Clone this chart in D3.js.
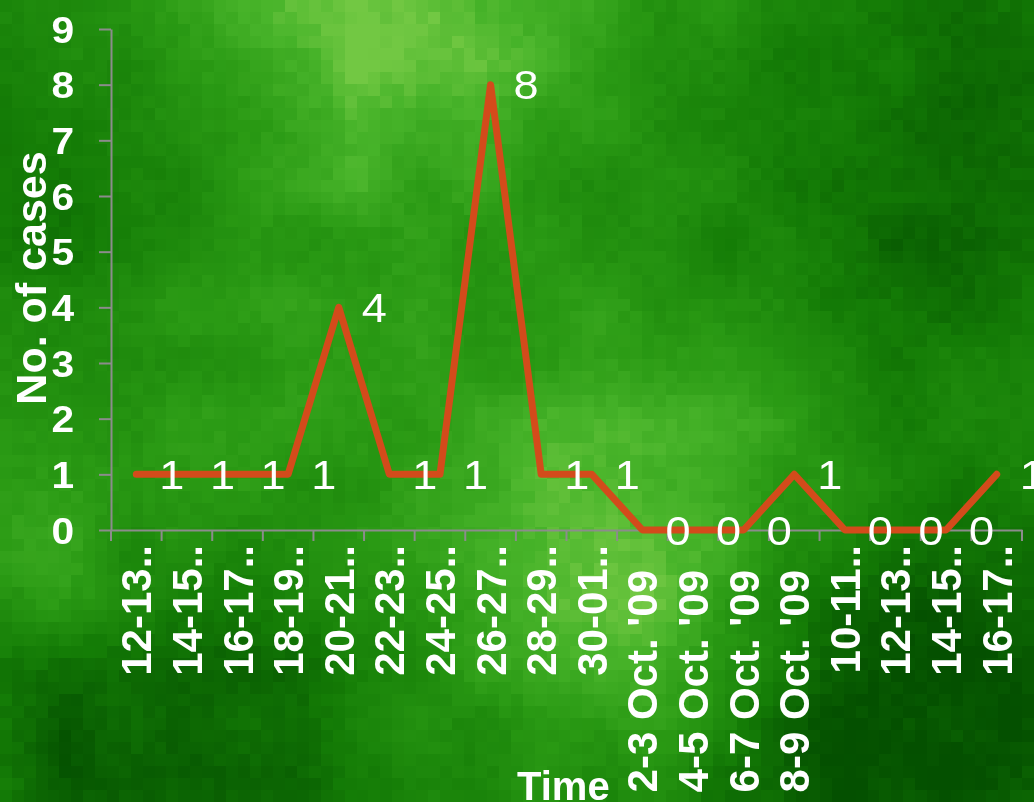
<!DOCTYPE html>
<html>
<head>
<meta charset="utf-8">
<script src="https://cdn.jsdelivr.net/npm/d3@7"></script>
<style>
  html, body { margin: 0; padding: 0; background: #1e7a10; }
  #wrap { position: relative; width: 1034px; height: 802px; overflow: hidden; }
  #bg { position: absolute; left: 0; top: 0; width: 1034px; height: 802px; image-rendering: pixelated; }
  #chart { position: absolute; left: 0; top: 0; }
  text { font-family: "Liberation Sans", Arial, sans-serif; fill: #ffffff; }
</style>
</head>
<body>
<div id="wrap">
  <canvas id="bg"></canvas>
  <svg id="chart" width="1034" height="802"></svg>
</div>
<script>
// Two-day reporting periods and the number of cases in each
const categories = [
  "12-13..", "14-15..", "16-17..", "18-19..", "20-21..", "22-23..",
  "24-25..", "26-27..", "28-29..", "30-01..",
  "2-3 Oct. '09", "4-5 Oct. '09", "6-7 Oct. '09", "8-9 Oct. '09",
  "10-11..", "12-13..", "14-15..", "16-17.."
];
const cases = [1, 1, 1, 1, 4, 1, 1, 8, 1, 1, 0, 0, 0, 1, 0, 0, 0, 1];
const yTicks = [0, 1, 2, 3, 4, 5, 6, 7, 8, 9];
const xTitle = "Time";
const yTitle = "No. of cases";

const W = 1034, H = 802;

// ---- Mottled green backdrop: a coarse mosaic of green tiles ----
(function drawBackdrop() {
  const cols = 87, rows = 67;
  const cv = document.getElementById("bg");
  cv.width = cols; cv.height = rows;
  const ctx = cv.getContext("2d");
  // soft light / dark patches: [cx, cy, spread, strength]
  const patches = [
    [300, 25, 120, 0.28], [430, 35, 120, 0.32], [570, 15, 80, 0.12],
    [680, 470, 130, 0.34], [630, 640, 80, 0.30], [560, 560, 120, 0.14],
    [40, 560, 70, 0.25], [330, 420, 150, 0.14], [150, 380, 90, 0.06],
    [200, 740, 130, -0.35], [20, 760, 80, -0.15], [960, 680, 150, -0.40],
    [820, 780, 100, -0.25], [960, 220, 130, -0.22], [1000, 60, 100, -0.20],
    [40, 200, 120, -0.15], [760, 280, 100, -0.10], [180, 120, 80, -0.08]
  ];
  const shade = d3.scaleLinear()
    .domain([0, 0.3, 0.6, 0.85, 1])
    .range(["#045000", "#147c06", "#2a9a14", "#48b42a", "#72c843"])
    .clamp(true);
  const grain = (i, j) => { const n = Math.sin(i * 127.1 + j * 311.7) * 43758.5453; return n - Math.floor(n); };
  // blotches: smoothly blended grain on a coarser lattice
  const step = 5;
  const smooth = t => t * t * (3 - 2 * t);
  const blotch = (i, j) => {
    const gi = Math.floor(i / step), gj = Math.floor(j / step);
    const fx = smooth((i % step) / step), fy = smooth((j % step) / step);
    const a = grain(gi + 50, gj + 50), b = grain(gi + 51, gj + 50);
    const c = grain(gi + 50, gj + 51), d = grain(gi + 51, gj + 51);
    return (a * (1 - fx) + b * fx) * (1 - fy) + (c * (1 - fx) + d * fx) * fy;
  };
  for (let j = 0; j < rows; j++) {
    for (let i = 0; i < cols; i++) {
      const px = (i + 0.5) * W / cols, py = (j + 0.5) * H / rows;
      let t = 0.45;
      for (const [pcx, pcy, s, a] of patches) {
        const d2 = (px - pcx) ** 2 + (py - pcy) ** 2;
        t += a * Math.exp(-d2 / (2 * s * s));
      }
      // faint light streak in the upper middle
      t += 0.06 * Math.exp(-((px - 355) ** 2) / (2 * 12 * 12)) * Math.exp(-(py ** 2) / (2 * 260 * 260));
      t += (blotch(i, j) - 0.5) * 0.18;
      t += (grain(i, j) - 0.5) * 0.08;
      ctx.fillStyle = shade(t);
      ctx.fillRect(i, j, 1, 1);
    }
  }
})();

// ---- Chart ----
const svg = d3.select("#chart");
const plotLeft = 111, plotRight = 1022, plotTop = 29, plotBottom = 530;

const x = d3.scaleBand().domain(d3.range(categories.length)).range([plotLeft, plotRight]);
const y = d3.scaleLinear().domain([0, 9]).range([plotBottom, plotTop]);
const cx = i => x(i) + x.bandwidth() / 2;

const axisGrey = "#8c8c8c";
const stretch = 1.1; // slightly wide lettering for the horizontal labels

// Y axis
const yAxis = svg.append("g")
  .attr("transform", `translate(${plotLeft},0)`)
  .call(d3.axisLeft(y).tickValues(yTicks).tickSize(12).tickSizeOuter(0).tickPadding(25).tickFormat(d3.format("d")));
yAxis.select(".domain").attr("stroke", axisGrey).attr("stroke-width", 2);
yAxis.selectAll(".tick line").attr("stroke", axisGrey).attr("stroke-width", 2);
yAxis.selectAll(".tick text")
  .attr("fill", "#fff").attr("font-size", 37).attr("font-weight", "bold")
  .attr("font-family", '"Liberation Sans", Arial, sans-serif')
  .attr("x", -37 / stretch)
  .attr("transform", `scale(${stretch},1)`)
  .attr("dy", "0.36em");

// X axis: labels under each period, tick marks on the period boundaries
const xAxis = svg.append("g")
  .attr("transform", `translate(0,${plotBottom})`)
  .call(d3.axisBottom(x).tickSize(0).tickSizeOuter(0).tickFormat(i => categories[i]));
xAxis.select(".domain").attr("stroke", axisGrey).attr("stroke-width", 2);
xAxis.selectAll(".tick text")
  .attr("fill", "#fff").attr("font-size", 42).attr("font-weight", "bold")
  .attr("font-family", '"Liberation Sans", Arial, sans-serif')
  .attr("text-anchor", "end")
  .attr("transform", "rotate(-90)")
  // full labels sit a little lower than the shortened ones
  .attr("x", i => categories[i].endsWith("..") ? -15 : -40)
  .attr("y", 15).attr("dy", 0);

const bounds = d3.range(categories.length + 1).map(i => i < categories.length ? x(i) : x.range()[1]);
xAxis.append("g").selectAll("line").data(bounds).join("line")
  .attr("x1", d => d).attr("x2", d => d)
  .attr("y1", 0).attr("y2", 11)
  .attr("stroke", axisGrey).attr("stroke-width", 2);

// Case line
const line = d3.line().x((d, i) => cx(i)).y(d => y(d));
svg.append("path")
  .datum(cases)
  .attr("d", line)
  .attr("fill", "none")
  .attr("stroke", "#d34b1b")
  .attr("stroke-width", 7)
  .attr("stroke-linejoin", "round")
  .attr("stroke-linecap", "round");

// Value labels beside each point
svg.append("g").selectAll("text").data(cases).join("text")
  .attr("transform", (d, i) => `translate(${cx(i) + 23},${y(d)}) scale(${stretch},1)`)
  .attr("dy", "0.36em")
  .attr("font-size", 41)
  .text(d => d);

// Axis titles
svg.append("text")
  .attr("transform", "translate(46,278) rotate(-90)")
  .attr("text-anchor", "middle")
  .attr("font-size", 43).attr("font-weight", "bold")
  .text(yTitle);

svg.append("text")
  .attr("x", 517).attr("y", 800)
  .attr("font-size", 40).attr("font-weight", "bold")
  .text(xTitle);
</script>
</body>
</html>
